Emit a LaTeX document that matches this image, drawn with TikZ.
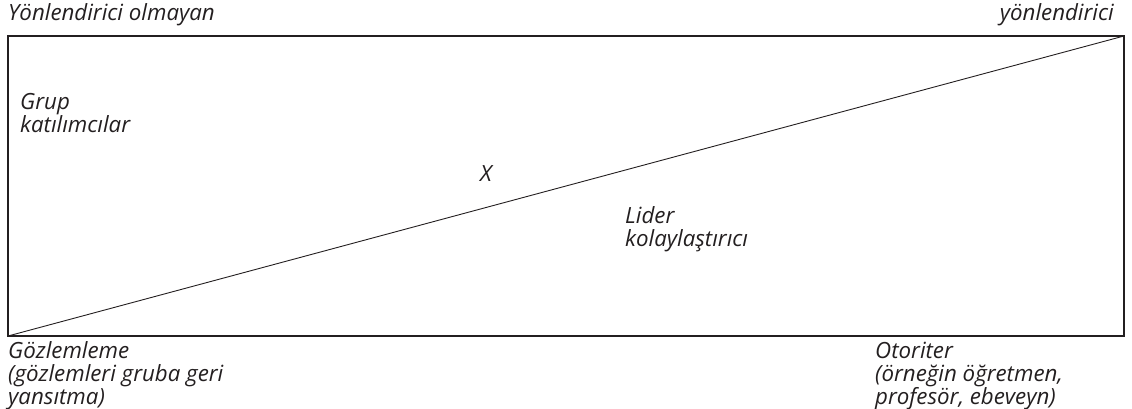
\documentclass[tikz,border=0pt]{standalone}
\usepackage{fontspec}
\setmainfont{Open Sans}
\usetikzlibrary{positioning}
\definecolor{ink}{RGB}{35,31,32}

\begin{document}
\begin{tikzpicture}[x=1pt, y=-1pt,
  lbl/.style={inner sep=0pt, align=left, text=ink, font=\fontsize{22.3}{23}\selectfont\itshape}]
  \useasboundingbox (0,0) rectangle (1132,409);
  \draw[ink, line width=1.1pt] (8,36) rectangle (1124,336);
  \coordinate (bl) at (8,336);
  \coordinate (tr) at (1124,36);
  \draw[ink, line width=0.9pt] (bl) -- (tr);
  % multi-line labels are placed by the baseline of their last line
  \node[lbl, anchor=base west]  (nondir) at (8,21)    {Yönlendirici olmayan};
  \node[lbl, anchor=base east]  (dir)    at (1114,21) {yönlendirici};
  \node[lbl, anchor=base west]  (grup)   at (20,132)  {Grup\\katılımcılar};
  \node[lbl, anchor=base west]  (x)      at (480,181) {X};
  \node[lbl, anchor=base west]  (lider)  at (625,246) {Lider\\kolaylaştırıcı};
  \node[lbl, anchor=base west]  (gozlem) at (8,404)   {Gözlemleme\\(gözlemleri gruba geri\\yansıtma)};
  \node[lbl, anchor=base west]  (otor)   at (875,404) {Otoriter\\(örneğin öğretmen,\\profesör, ebeveyn)};
\end{tikzpicture}
\end{document}
